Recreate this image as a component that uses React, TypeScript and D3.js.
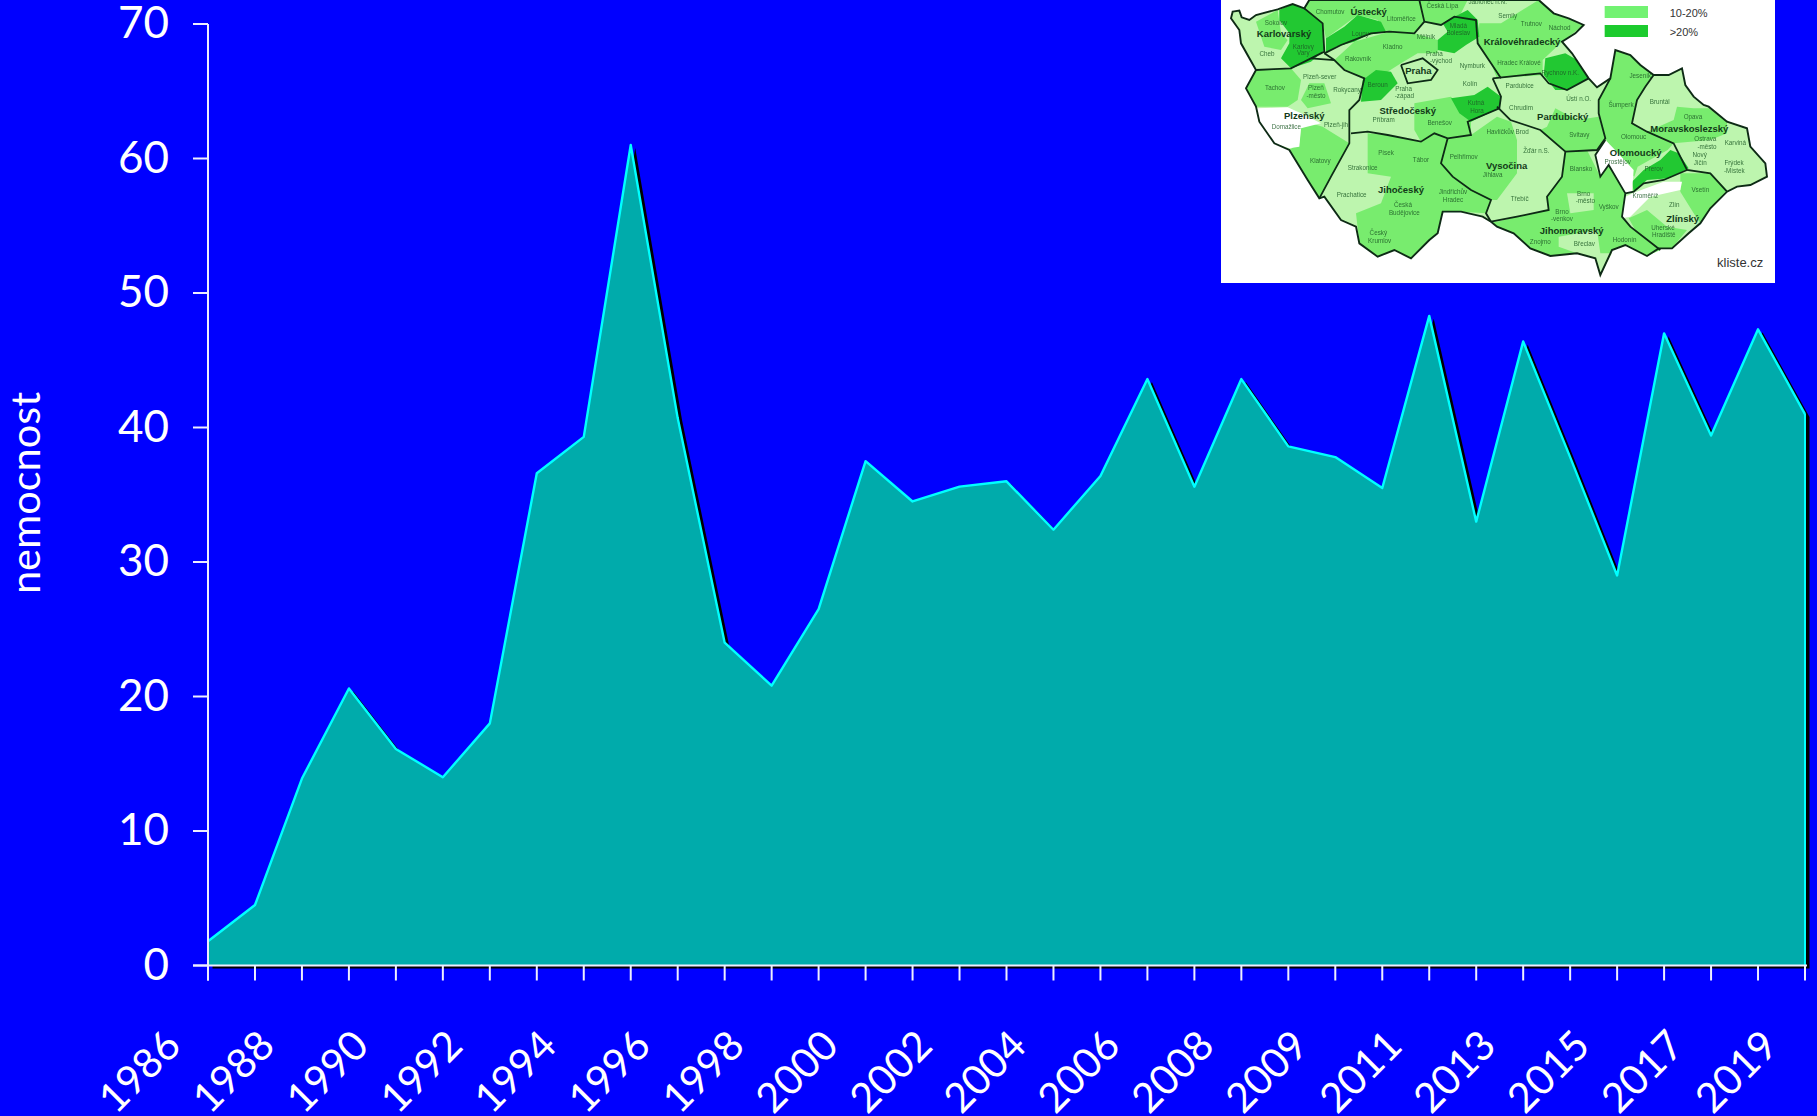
import React from "react";
import * as d3 from "d3";

const values = [1.8,4.5,13.9,20.6,16.1,14,18,36.6,39.3,61,40.7,24,20.8,26.5,37.5,34.5,35.6,36,32.4,36.4,43.6,35.6,43.6,38.6,37.8,35.5,48.3,33,46.4,37.8,29,47,39.4,47.3,41];
const xLabels = ["1986","1988","1990","1992","1994","1996","1998","2000","2002","2004","2006","2008","2009","2011","2013","2015","2017","2019"];
const yTicks = [0,10,20,30,40,50,60,70];
const yTitle = "nemocnost";

type P = [number, number];
const outline: P[] = [[35,35],[55,32],[62,52],[85,60],[105,45],[170,28],[215,12],[250,25],[265,0],[953,0],[998,40],[1043,55],[1088,75],[1063,100],[1023,125],[1053,160],[1103,235],[1128,262],[1168,235],[1183,150],[1228,165],[1258,195],[1298,225],[1343,225],[1383,205],[1393,255],[1418,290],[1448,315],[1463,320],[1518,365],[1578,385],[1588,440],[1633,490],[1638,530],[1588,555],[1548,560],[1518,575],[1468,625],[1438,670],[1403,700],[1353,745],[1313,745],[1278,768],[1213,735],[1173,750],[1138,825],[1123,775],[1068,760],[988,768],[928,745],[878,700],[828,680],[810,665],[785,650],[720,635],[665,635],[650,700],[625,720],[570,775],[520,750],[470,770],[415,730],[405,680],[360,660],[310,590],[295,595],[260,540],[205,450],[160,430],[115,365],[105,320],[75,265],[105,210],[60,130],[55,90],[30,55]];
const midAreas: P[][] = [
  [[105,65],[170,30],[180,100],[200,120],[180,150],[130,140]],
  [[265,0],[595,0],[610,65],[580,100],[490,95],[470,60],[410,45],[315,115],[305,70],[250,25]],
  [[340,180],[400,125],[505,95],[580,100],[650,120],[650,160],[590,160],[540,190],[500,215],[430,235],[370,210]],
  [[595,0],[740,0],[720,40],[660,75],[610,65]],
  [[770,130],[775,70],[840,70],[953,0],[998,40],[1088,75],[1023,125],[965,180],[965,225],[828,235],[810,190]],
  [[75,265],[105,210],[210,205],[240,240],[230,300],[200,320],[105,320]],
  [[265,250],[310,250],[330,310],[260,325],[240,300]],
  [[270,370],[305,380],[385,430],[330,530],[295,595],[205,450],[235,430],[240,385]],
  [[580,310],[690,290],[750,360],[750,405],[680,415],[640,400],[600,425],[580,390]],
  [[440,400],[500,405],[600,425],[640,400],[680,415],[660,490],[695,530],[750,570],[810,600],[795,640],[720,635],[665,635],[650,700],[625,720],[570,775],[520,750],[470,770],[415,730],[405,640],[480,610],[510,530],[440,520]],
  [[750,405],[828,350],[870,365],[888,420],[888,520],[828,600],[810,600],[750,570],[695,530],[660,490],[680,415]],
  [[978,380],[1003,325],[1068,360],[1133,350],[1153,415],[1128,450],[1033,455],[958,390]],
  [[1183,150],[1228,165],[1258,195],[1298,225],[1273,260],[1248,300],[1233,370],[1278,395],[1358,430],[1340,450],[1250,500],[1240,530],[1190,480],[1153,415],[1133,340],[1133,300],[1168,235]],
  [[1368,320],[1418,325],[1463,325],[1518,365],[1518,400],[1468,420],[1358,430],[1278,395],[1358,360]],
  [[1378,520],[1468,520],[1518,570],[1468,625],[1438,670],[1418,640],[1378,575]],
  [[1223,655],[1278,630],[1338,680],[1398,690],[1353,745],[1313,745],[1248,700]],
  [[1033,455],[1098,450],[1138,530],[1163,495],[1213,580],[1203,650],[1228,680],[1318,750],[1278,768],[1213,735],[1173,750],[1138,825],[1123,775],[1068,760],[988,768],[928,745],[878,700],[828,680],[810,665],[828,665],[888,650],[983,630],[978,590],[1023,530]],
];
const paleAreas: P[][] = [
  [[1013,710],[1128,690],[1138,760],[1173,760],[1138,825],[1123,775],[1068,760],[1013,740]],
  [[1038,580],[1118,580],[1118,630],[1048,640]],
  [[540,195],[605,175],[650,210],[630,240],[560,250]],
];
const darkAreas: P[][] = [
  [[175,30],[215,12],[250,25],[305,70],[310,150],[270,185],[210,205],[180,175],[205,130],[205,100],[175,60]],
  [[315,115],[370,80],[410,45],[480,65],[495,95],[440,105],[400,125],[345,140],[315,160]],
  [[665,70],[700,50],[740,30],[770,60],[775,110],[735,135],[700,160],[650,150],[650,120],[680,95]],
  [[973,175],[1033,160],[1068,180],[1103,235],[1038,270],[1003,270],[968,225]],
  [[425,240],[465,210],[510,215],[530,250],[480,300],[420,305]],
  [[690,295],[760,285],[800,260],[840,290],[835,325],[750,365],[715,340]],
  [[1233,545],[1268,510],[1318,480],[1348,450],[1373,460],[1403,505],[1343,535],[1278,540],[1238,575]],
];
const whiteAreas: P[][] = [
  [[105,325],[200,322],[240,340],[300,370],[240,385],[235,440],[205,445],[160,430],[115,365]],
  [[1123,465],[1153,420],[1173,440],[1238,510],[1233,575],[1213,580],[1163,495],[1138,530]],
  [[1213,590],[1238,578],[1328,545],[1383,545],[1378,570],[1288,590],[1228,650],[1203,655]],
];
const krajLines: P[][] = [
  [[105,210],[210,205],[270,175],[310,155],[305,70],[250,25]],
  [[310,160],[360,135],[450,100],[505,95],[580,100],[610,65],[595,0]],
  [[610,65],[660,75],[700,50],[765,60],[770,130],[810,190],[840,235]],
  [[270,175],[340,180],[370,210],[430,235],[415,300],[385,330],[385,430],[330,530],[295,595]],
  [[310,160],[340,180]],
  [[540,195],[605,175],[650,210],[630,240],[560,250],[540,195]],
  [[390,400],[440,395],[500,405],[600,425],[640,400],[680,415],[750,405],[740,365],[835,325],[840,290],[815,235]],
  [[680,415],[660,490],[695,530],[750,570],[810,600],[795,640],[810,665]],
  [[828,320],[868,360],[958,390],[1033,455],[1023,530],[978,590],[983,630],[888,650],[810,665]],
  [[815,235],[958,220],[983,250],[1038,270],[1103,235]],
  [[1033,455],[1128,450],[1153,415],[1133,340],[1133,300],[1168,235]],
  [[1298,225],[1273,260],[1248,300],[1233,370],[1278,395],[1358,430],[1398,510],[1468,520],[1518,575]],
  [[1153,420],[1123,465],[1138,530],[1163,495],[1213,580],[1203,650],[1228,680],[1318,750]],
  [[1213,580],[1238,575],[1268,550],[1328,540],[1398,510]],
];
const kraje: [string, number, number][] = [
  ["Ústecký",443,45],["Karlovarský",189,110],["Praha",592,222],["Plzeňský",250,358],["Středočeský",560,343],["Jihočeský",540,578],
  ["Královéhradecký",903,136],["Pardubický",1025,360],["Moravskoslezský",1405,396],["Olomoucký",1244,468],["Vysočina",857,506],["Zlínský",1385,667],["Jihomoravský",1052,702],
];
const okresy: [string, number, number][] = [
  ["Chomutov",327,42],["Litoměřice",541,62],["Česká Lípa",664,24],["Jablonec n.N.",800,12],["Semily",860,54],["Sokolov",165,75],["Cheb",138,168],["Karlovy",247,146],["Vary",247,166],["Louny",418,108],["Kladno",515,146],["Mělník",615,116],["Mladá",712,84],["Boleslav",712,106],["Praha",640,167],["-východ",660,189],["Rakovník",411,182],["Plzeň-sever",296,236],["Tachov",162,270],["Plzeň",285,270],["-město",285,293],["Rokycany",378,275],["Beroun",470,262],["Praha",548,272],["-západ",550,294],["Nymburk",754,203],["Kolín",747,258],["Kutná",765,316],["Hora",768,338],["Příbram",488,366],["Benešov",656,376],["Domažlice",196,386],["Plzeň-jih",345,380],["Klatovy",298,489],["Písek",495,466],["Tábor",600,486],["Strakonice",425,510],["Prachatice",392,592],["Česká",546,622],["Budějovice",550,645],["Český",472,706],["Krumlov",476,728],["Jindřichův",696,583],["Hradec",696,605],["Pelhřimov",728,478],["Jihlava",815,532],
  ["Trutnov",931,78],["Náchod",1016,90],["Hradec Králové",894,196],["Rychnov n.K.",1018,224],["Pardubice",896,263],["Ústí n.O.",1073,303],["Chrudim",900,329],["Jeseník",1258,234],["Šumperk",1200,320],["Bruntál",1316,313],["Opava",1416,358],["Svitavy",1075,410],["Olomouc",1238,416],["Ostrava",1453,424],["-město",1458,446],["Karviná",1543,436],["Nový",1436,472],["Jičín",1438,495],["Frýdek",1539,495],["-Místek",1540,518],["Prostějov",1190,492],["Přerov",1298,513],["Žďár n.S.",946,460],["Havlíčkův Brod",860,402],["Třebíč",896,603],["Blansko",1080,513],["Brno",1088,588],["-město",1093,610],["Vyškov",1163,627],["Brno",1023,641],["-venkov",1023,663],["Kroměříž",1273,595],["Zlín",1360,620],["Vsetín",1438,576],["Uherské",1326,690],["Hradiště",1328,712],["Hodonín",1211,725],["Znojmo",958,733],["Břeclav",1090,737],
];
const legendItems: [string, string, number][] = [["10-20%","#72f272",18],[">20%","#1ccb2e",75]];
const sourceLabel = "kliste.cz";

const W = 1817, H = 1116;
const x = d3.scaleLinear().domain([0, values.length - 1]).range([208, 1805]);
const y = d3.scaleLinear().domain([0, 70]).range([965.5, 24]);
const mx = d3.scaleLinear().domain([0, 1662]).range([1221, 1775]);
const my = d3.scaleLinear().domain([0, 849]).range([0, 283]);
const idx = values.map((_, i) => i);
const area = d3.area<number>().x(i => x(i)).y0(y(0)).y1(i => y(values[i]));
const line = d3.line<number>().x(i => x(i)).y(i => y(values[i]));
const mapPath = d3.line<P>().x(p => mx(p[0])).y(p => my(p[1]));
const closed = (p: P[]) => mapPath(p) + "Z";
const FONT = "Lato, 'Noto Sans', sans-serif";
const MAPFONT = "'Liberation Sans', sans-serif";

export default function App() {
  return (
    <svg width={W} height={H} viewBox={`0 0 ${W} ${H}`} style={{ position: "absolute", left: 0, top: 0, background: "#0000ff", display: "block" }} fontFamily={FONT}>
      <defs>
        <filter id="soft" x="-5%" y="-5%" width="110%" height="110%"><feGaussianBlur stdDeviation="0.45" /></filter>
        <clipPath id="mapclip"><rect x={1221} y={0} width={554} height={283} /></clipPath>
      </defs>
      <rect width={W} height={H} fill="#0000ff" />

      <path d={area(idx)!} transform="translate(4.5,3)" fill="#000" />
      <path d={area(idx)!} fill="#00abab" />
      <path d={line(idx)!} fill="none" stroke="#00ffff" strokeWidth={2.4} strokeLinejoin="round" />
      <line x1={x(34)} x2={x(34)} y1={y(values[34])} y2={y(0)} stroke="#00ffff" strokeWidth={2} />

      <line x1={208} x2={208} y1={y(70)} y2={y(0) + 15} stroke="#eef" strokeWidth={2} />
      <line x1={193} x2={x(34) + 2} y1={y(0)} y2={y(0)} stroke="#eef" strokeWidth={2} />
      {yTicks.map(t => (
        <g key={t}>
          <line x1={193} x2={208} y1={y(t)} y2={y(t)} stroke="#eef" strokeWidth={2} />
          <text x={169} y={y(t) + 14} textAnchor="end" fill="#fff" fontSize={44}>{t}</text>
        </g>
      ))}
      {idx.map(i => <line key={i} x1={x(i)} x2={x(i)} y1={y(0)} y2={y(0) + 15} stroke="#eef" strokeWidth={2} />)}
      {xLabels.map((l, k) => (
        <text key={l} transform={`translate(${x(k * 2) - 25},1048) rotate(-45)`} textAnchor="end" fill="#fff" fontSize={41}>{l}</text>
      ))}
      <text transform="translate(40,493) rotate(-90)" textAnchor="middle" fill="#fff" fontSize={41.5}>{yTitle}</text>

      <rect x={1221} y={0} width={554} height={283} fill="#fff" />
      <g clipPath="url(#mapclip)">
        <g filter="url(#soft)">
          <path d={closed(outline)} fill="#bdf5ae" />
          {midAreas.map((p, i) => <path key={i} d={closed(p)} fill="#78ec6e" />)}
          {paleAreas.map((p, i) => <path key={i} d={closed(p)} fill="#bdf5ae" />)}
          {darkAreas.map((p, i) => <path key={i} d={closed(p)} fill="#22c832" />)}
          {whiteAreas.map((p, i) => <path key={i} d={closed(p)} fill="#fff" />)}
          {krajLines.map((p, i) => <path key={i} d={mapPath(p)!} fill="none" stroke="#0d2a14" strokeWidth={1.8} />)}
          <path d={closed(outline)} fill="none" stroke="#0d2a14" strokeWidth={1.9} />
          {legendItems.map(([l, c, ly]) => (
            <rect key={l} x={mx(1151)} y={my(ly)} width={mx(1281) - mx(1151)} height={my(36)} fill={c} />
          ))}
        </g>
        {kraje.map(([t, lx, ly], i) => (
          <text key={i} x={mx(lx)} y={my(ly)} textAnchor="middle" fontFamily={MAPFONT} fontSize={9.5} fontWeight={700} fill="#123a18">{t}</text>
        ))}
        {okresy.map(([t, lx, ly], i) => (
          <text key={i} x={mx(lx)} y={my(ly)} textAnchor="middle" fontFamily={MAPFONT} fontSize={6.3} fill="#1d5a26" opacity={0.85}>{t}</text>
        ))}
        {legendItems.map(([l, , ly]) => (
          <text key={l} x={mx(1346)} y={my(ly + 32)} fontFamily={MAPFONT} fontSize={11} fill="#333">{l}</text>
        ))}
        <text x={mx(1488)} y={my(802)} fontFamily={MAPFONT} fontSize={13} fill="#333">{sourceLabel}</text>
      </g>
    </svg>
  );
}
